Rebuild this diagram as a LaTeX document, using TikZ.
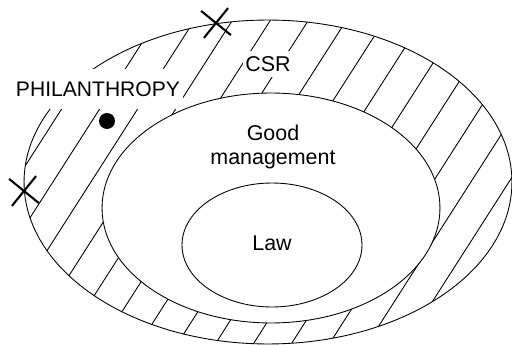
\documentclass[tikz,border=0pt]{standalone}
\usepackage{fontspec}
\setmainfont{Liberation Sans}
\usetikzlibrary{shapes}

\begin{document}
\begin{tikzpicture}[x=0.02cm, y=-0.02cm, line width=0.5pt,
  label node/.style={font=\fontsize{12.2}{13.2}\selectfont},
  box node/.style={label node, fill=white, inner xsep=1.5pt},
  dot node/.style={circle, fill, inner sep=0pt, minimum size=0.32cm},
  cross node/.style={cross out, draw, line width=1.2pt, inner sep=0pt, minimum size=0.5cm, rotate=6},
  hatch/.style={line width=0.5pt}]
\useasboundingbox (0,0) rectangle (512,345);
\begin{scope}[even odd rule]
\clip (268,182) ellipse [x radius=4.88cm, y radius=3.24cm]
  (271,208) ellipse [x radius=3.38cm, y radius=2.3cm];
\foreach \i in {-7,...,12}
  \draw[hatch] ({289.8+38*\i},-10) -- ({289.8+38*\i-0.64*365},355);
\end{scope}
\draw (268,182) ellipse [x radius=4.88cm, y radius=3.24cm];
\draw (271,208) ellipse [x radius=3.38cm, y radius=2.3cm];
\draw (272,245) ellipse [x radius=1.8cm, y radius=1.24cm];
\node[box node, inner ysep=7pt, font=\fontsize{12}{13}\selectfont] (philanthropy) at (98,89) {PHILANTHROPY};
\node[box node, inner ysep=3.2pt] (csr) at (268,64) {CSR};
\node[label node, align=center] (goodmgmt) at (273,147) {Good\\management};
\node[label node] (law) at (272,243) {Law};
\node[dot node] (dot) at (107,121) {};
\node[cross node] (x1) at (216,23) {};
\node[cross node] (x2) at (24,191) {};
\end{tikzpicture}
\end{document}
